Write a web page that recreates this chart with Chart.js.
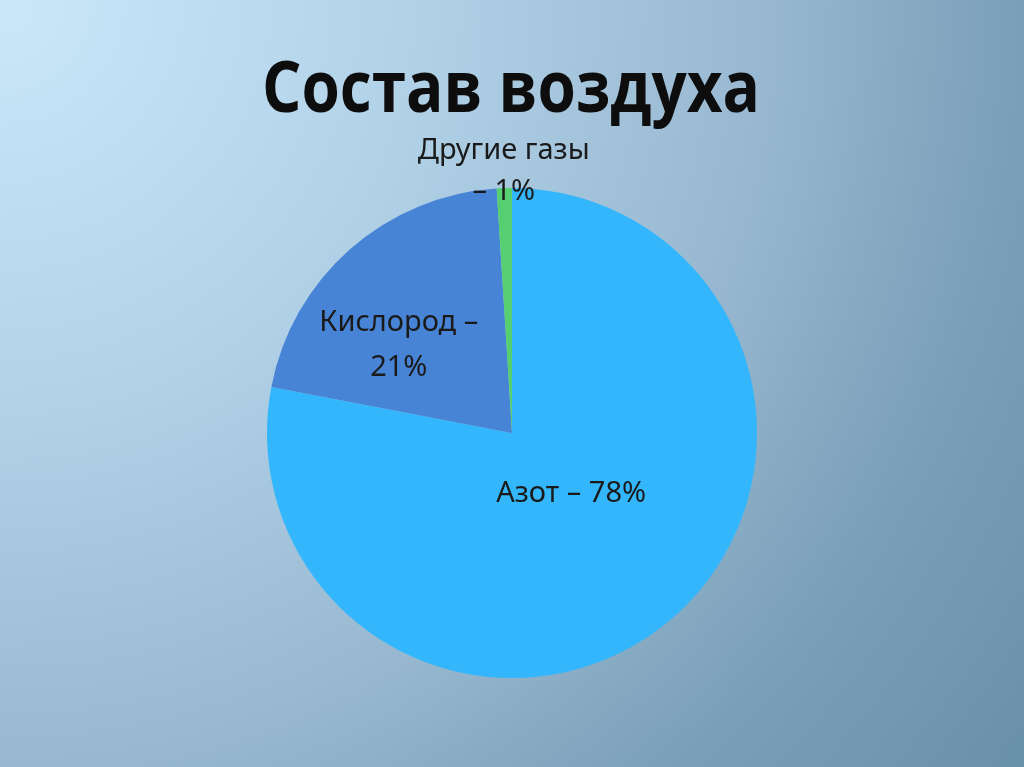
<!DOCTYPE html>
<html lang="ru">
<head>
<meta charset="utf-8">
<title>Состав воздуха</title>
<script src="https://cdn.jsdelivr.net/npm/chart.js@4/dist/chart.umd.min.js"></script>
<style>
  html, body { margin: 0; padding: 0; }
  body {
    width: 1024px;
    height: 767px;
    overflow: hidden;
    background: radial-gradient(circle at 0 0, #cbe8fa 0px, #b2d2e8 400px, #97b8d0 767px, #7a9fb8 1024px, #6990ab 1280px);
  }
  #wrap { position: relative; width: 1024px; height: 767px; }
</style>
</head>
<body>
<div id="wrap"><canvas id="airChart"></canvas></div>
<script>
  const title = "Состав воздуха";
  const gases = ["Азот", "Кислород", "Другие газы"];
  const shares = [78, 21, 1];
  const sliceColors = ["#34b6fd", "#4884d6", "#55cf70"];

  // where each label goes: fraction of radius along the slice middle, plus a small nudge
  const labelSpots = [
    { lines: ["Азот – 78%"], r: 0.34, dx: 6, dy: -3, lh: 44 },
    { lines: ["Кислород –", "21%"], r: 0.6, dx: -16, dy: 23, lh: 45 },
    { lines: ["Другие газы", "– 1%"], r: 1.07, dx: 0, dy: 0, lh: 41 },
  ];

  // draw text squeezed to a given width (the original font is narrower)
  function fitText(ctx, text, x, y, width) {
    const w = ctx.measureText(text).width;
    const k = Math.min(1, width / w);
    ctx.save();
    ctx.translate(x, y);
    ctx.scale(k, 1);
    ctx.fillText(text, 0, 0);
    ctx.restore();
  }

  const labelPlugin = {
    id: "labelPlugin",
    afterDraw(chart) {
      const ctx = chart.ctx;
      ctx.save();
      ctx.textAlign = "center";
      ctx.textBaseline = "middle";

      // title
      ctx.fillStyle = "#0d0d0d";
      ctx.font = "bold 72px 'Open Sans', 'Noto Sans', sans-serif";
      fitText(ctx, title, 511, 91, 498);

      // slice labels
      ctx.fillStyle = "#1a1a1a";
      ctx.font = "29px 'Noto Sans', sans-serif";
      const arcs = chart.getDatasetMeta(0).data;
      arcs.forEach((arc, i) => {
        const p = arc.getProps(["x", "y", "startAngle", "endAngle", "outerRadius"], true);
        const mid = (p.startAngle + p.endAngle) / 2;
        const spot = labelSpots[i];
        const cx = p.x + Math.cos(mid) * p.outerRadius * spot.r + spot.dx;
        const cy = p.y + Math.sin(mid) * p.outerRadius * spot.r + spot.dy;
        spot.lines.forEach((line, j) => {
          fitText(ctx, line, cx, cy + (j - (spot.lines.length - 1) / 2) * spot.lh, 400);
        });
      });
      ctx.restore();
    },
  };

  const ctx = document.getElementById("airChart");
  new Chart(ctx, {
    type: "pie",
    data: {
      labels: gases,
      datasets: [
        {
          data: shares,
          backgroundColor: sliceColors,
          borderWidth: 0,
        },
      ],
    },
    options: {
      responsive: true,
      maintainAspectRatio: false,
      animation: false,
      layout: {
        padding: { top: 188, bottom: 89, left: 0, right: 0 },
      },
      plugins: {
        legend: { display: false },
        tooltip: { enabled: false },
        title: { display: false },
      },
    },
    plugins: [labelPlugin],
  });
</script>
</body>
</html>
